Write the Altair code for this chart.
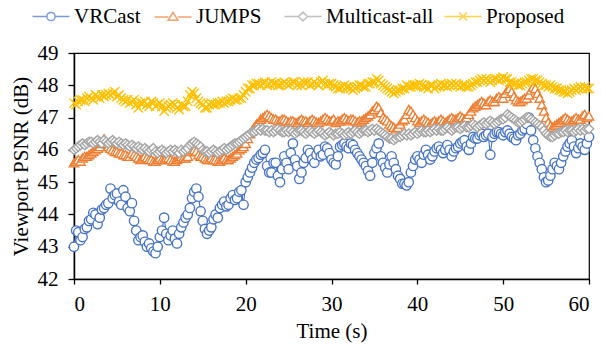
import altair as alt
import pandas as pd

series_names = ["VRCast", "JUMPS", "Multicast-all", "Proposed"]
colors = ["#4472C4", "#ED7D31", "#A5A5A5", "#FFC000"]

# samples every 0.25 s, from 0 to 60 s (4 per second + final point)
time = [i * 0.25 for i in range(241)]

vrcast = [
    43.0, 43.5, 43.45, 43.2,  43.3, 43.55, 43.6, 43.8,  43.85, 44.05, 44.0, 43.7,
    43.9, 44.15, 44.2, 44.3,  44.35, 44.8, 44.5, 44.6,  44.65, 44.4, 44.3, 44.75,
    44.55, 44.2, 44.1, 44.35,  43.8, 43.5, 43.2, 43.3,  43.35, 43.15, 43.0, 43.1,
    42.95, 42.85, 42.8, 43.0,  43.3, 43.5, 43.9, 43.4,  43.2, 43.35, 43.5, 43.25,
    43.1, 43.4, 43.6, 43.75,  43.9, 44.0, 44.2, 44.5,  44.7, 44.8, 44.55, 44.1,
    43.8, 43.55, 43.4, 43.5,  43.6, 43.85, 44.0, 43.9,  44.2, 44.3, 44.4, 44.25,
    44.3, 44.5, 44.6, 44.45,  44.5, 44.7, 44.75, 44.3,  45.0, 45.15, 45.3, 45.45,
    45.6, 45.7, 45.75, 45.85,  45.9, 46.0, 45.5, 45.3,  45.3, 45.6, 45.6, 45.2,
    45.0, 45.4, 45.8, 45.6,  45.4, 45.9, 46.2, 45.7,  45.5, 45.1, 45.3, 45.6,
    45.75, 46.0, 45.9, 45.7,  45.6, 45.85, 46.0, 45.8,  45.85, 46.1, 46.05, 45.9,
    45.7, 45.6, 45.55, 45.8,  46.1, 46.15, 46.2, 46.1,  46.05, 46.2, 46.15, 46.0,
    45.9, 45.8, 45.7, 45.6,  45.5, 45.35, 45.2, 45.6,  45.9, 46.05, 46.2, 45.8,
    45.6, 45.45, 45.3, 45.55,  45.8, 45.6, 45.4, 45.2,  45.1, 44.95, 44.95, 44.9,
    45.0, 45.3, 45.5, 45.7,  45.8, 45.7, 45.6, 45.85,  46.0, 45.85, 45.7, 45.8,
    45.95, 46.05, 46.1, 46.0,  45.9, 46.0, 46.15, 46.0,  45.8, 45.95, 46.05, 46.1,
    46.2, 46.25, 46.3, 46.1,  46.0, 46.2, 46.4, 46.35,  46.35, 46.45, 46.5, 46.4,
    46.45, 46.5, 45.85, 46.4,  46.5, 46.55, 46.55, 46.5,  46.45, 46.55, 46.6, 46.5,
    46.4, 46.35, 46.3, 46.45,  46.5, 46.6, 46.65, 46.8,  47.0, 46.6, 46.3, 46.05,
    45.8, 45.6, 45.4, 45.15,  45.0, 45.05, 45.2, 45.4,  45.6, 45.5, 45.4, 45.6,
    45.8, 45.95, 46.1, 46.2,  46.3, 46.1, 45.9, 46.05,  46.2, 46.1, 46.0, 46.2,
    46.4,
]

jumps = [
    45.6, 45.65, 45.7, 45.65,  45.75, 45.8, 45.8, 45.85,  45.9, 45.95, 46.0, 46.05,
    46.1, 46.2, 46.35, 46.2,  46.1, 46.05, 46.0, 45.95,  45.95, 45.9, 45.9, 45.85,
    45.85, 45.8, 45.8, 45.9,  45.85, 45.8, 45.75, 45.7,  45.75, 45.8, 45.75, 45.7,
    45.7, 45.65, 45.65, 45.7,  45.75, 45.7, 45.7, 45.75,  45.75, 45.7, 45.65, 45.65,
    45.7, 45.75, 45.8, 45.75,  45.75, 45.8, 45.95, 46.0,  46.0, 45.95, 45.85, 45.8,
    45.8, 45.75, 45.7, 45.7,  45.75, 45.7, 45.7, 45.65,  45.65, 45.7, 45.75, 45.7,
    45.7, 45.75, 45.8, 45.85,  45.9, 46.0, 46.05, 46.1,  46.2, 46.35, 46.5, 46.6,
    46.7, 46.8, 46.85, 46.95,  47.0, 47.05, 47.1, 47.05,  47.0, 46.95, 46.95, 46.9,
    46.9, 46.95, 46.95, 46.9,  46.85, 46.9, 46.9, 46.85,  46.85, 46.9, 46.95, 46.9,
    46.9, 46.85, 46.9, 46.95,  46.9, 46.85, 46.85, 46.9,  46.95, 47.0, 46.95, 46.9,
    46.9, 46.95, 46.85, 46.9,  46.9, 46.95, 47.0, 46.95,  46.9, 46.95, 46.95, 46.9,
    46.85, 46.9, 46.9, 46.95,  47.0, 47.05, 47.1, 47.2,  47.25, 47.35, 47.3, 47.15,
    47.0, 46.95, 46.9, 46.8,  46.75, 46.7, 46.65, 46.7,  46.8, 46.9, 46.95, 47.1,
    47.25, 47.2, 47.1, 47.0,  46.9, 46.85, 46.9, 46.95,  46.9, 46.85, 46.8, 46.85,
    46.9, 46.85, 46.9, 46.95,  46.9, 46.85, 46.9, 46.95,  47.0, 46.95, 46.95, 47.0,
    47.05, 47.0, 46.95, 47.0,  47.1, 47.2, 47.3, 47.35,  47.4, 47.45, 47.5, 47.45,
    47.4, 47.5, 47.55, 47.5,  47.5, 47.6, 47.65, 47.6,  47.6, 47.75, 47.85, 47.9,
    47.8, 47.65, 47.55, 47.5,  47.5, 47.55, 47.6, 47.6,  47.7, 47.85, 47.95, 47.9,
    47.75, 47.6, 47.4, 47.2,  47.0, 46.85, 46.75, 46.7,  46.75, 46.8, 46.85, 46.9,
    46.95, 47.0, 46.95, 46.9,  46.9, 46.95, 47.0, 46.95,  46.95, 47.05, 47.1, 47.0,
    47.05,
]

multicast = [
    46.0, 46.05, 46.1, 46.15,  46.2, 46.15, 46.2, 46.25,  46.25, 46.2, 46.25, 46.3,
    46.25, 46.2, 46.3, 46.25,  46.2, 46.25, 46.3, 46.25,  46.2, 46.25, 46.2, 46.15,
    46.2, 46.15, 46.1, 46.15,  46.1, 46.05, 46.1, 46.05,  46.0, 46.05, 46.0, 45.95,
    46.0, 46.05, 45.95, 45.9,  45.95, 46.0, 45.95, 45.9,  45.95, 46.0, 45.95, 46.0,
    45.95, 45.9, 46.0, 45.95,  46.0, 46.05, 46.15, 46.2,  46.25, 46.2, 46.15, 46.1,
    46.0, 45.95, 45.95, 45.9,  45.95, 46.0, 45.95, 45.9,  45.95, 46.0, 46.05, 46.0,
    46.05, 46.1, 46.15, 46.2,  46.2, 46.25, 46.3, 46.35,  46.4, 46.45, 46.5, 46.55,
    46.55, 46.6, 46.65, 46.6,  46.65, 46.6, 46.6, 46.55,  46.6, 46.55, 46.6, 46.65,
    46.6, 46.55, 46.55, 46.6,  46.55, 46.6, 46.55, 46.5,  46.55, 46.6, 46.6, 46.55,
    46.5, 46.55, 46.6, 46.55,  46.5, 46.55, 46.6, 46.55,  46.5, 46.45, 46.5, 46.55,
    46.5, 46.45, 46.5, 46.5,  46.55, 46.5, 46.45, 46.5,  46.55, 46.5, 46.55, 46.6,
    46.55, 46.5, 46.55, 46.6,  46.6, 46.55, 46.6, 46.65,  46.6, 46.65, 46.6, 46.55,
    46.5, 46.45, 46.4, 46.35,  46.35, 46.3, 46.35, 46.4,  46.4, 46.45, 46.5, 46.45,
    46.5, 46.45, 46.5, 46.55,  46.5, 46.55, 46.6, 46.55,  46.55, 46.6, 46.55, 46.6,
    46.65, 46.6, 46.65, 46.6,  46.6, 46.65, 46.7, 46.65,  46.6, 46.65, 46.7, 46.7,
    46.65, 46.7, 46.75, 46.7,  46.7, 46.75, 46.8, 46.75,  46.7, 46.75, 46.8, 46.85,
    46.8, 46.85, 46.9, 46.85,  46.8, 46.85, 46.9, 46.95,  46.95, 47.0, 47.1, 47.05,
    47.0, 46.95, 46.9, 46.85,  46.85, 46.9, 46.95, 47.0,  47.0, 46.95, 46.9, 46.85,
    46.8, 46.75, 46.7, 46.6,  46.5, 46.45, 46.4, 46.4,  46.45, 46.5, 46.5, 46.55,
    46.55, 46.6, 46.55, 46.6,  46.6, 46.55, 46.6, 46.65,  46.6, 46.65, 46.6, 46.65,
    46.65,
]

proposed = [
    47.45, 47.4, 47.5, 47.55,  47.55, 47.5, 47.6, 47.65,  47.6, 47.55, 47.7, 47.65,
    47.6, 47.7, 47.65, 47.7,  47.75, 47.7, 47.75, 47.8,  47.65, 47.7, 47.6, 47.55,
    47.5, 47.55, 47.45, 47.5,  47.55, 47.4, 47.3, 47.45,  47.45, 47.5, 47.4, 47.35,
    47.5, 47.45, 47.35, 47.4,  47.45, 47.35, 47.2, 47.3,  47.35, 47.4, 47.45, 47.4,
    47.3, 47.25, 47.4, 47.35,  47.35, 47.5, 47.7, 47.8,  47.75, 47.6, 47.5, 47.45,
    47.4, 47.3, 47.3, 47.4,  47.45, 47.4, 47.4, 47.45,  47.45, 47.5, 47.45, 47.5,
    47.5, 47.55, 47.6, 47.55,  47.55, 47.6, 47.6, 47.7,  47.8, 47.9, 47.9, 48.0,
    48.0, 48.05, 48.05, 48.0,  48.05, 48.1, 48.0, 48.05,  48.1, 48.05, 48.05, 48.0,
    48.0, 48.05, 48.1, 48.05,  48.0, 48.05, 48.1, 48.1,  48.0, 48.05, 48.0, 48.1,
    48.05, 48.1, 48.0, 48.05,  48.1, 48.05, 48.0, 48.1,  48.15, 48.05, 48.0, 48.05,
    48.05, 48.0, 47.95, 47.9,  47.9, 47.95, 48.0, 47.95,  47.95, 47.9, 47.85, 47.9,
    47.95, 48.0, 48.0, 47.95,  47.95, 48.05, 48.05, 48.1,  48.1, 48.2, 48.15, 48.05,
    48.0, 47.95, 47.9, 47.85,  47.8, 47.75, 47.8, 47.85,  47.85, 47.9, 47.9, 48.0,
    47.95, 47.95, 48.0, 48.0,  48.0, 48.05, 48.0, 47.95,  47.95, 47.9, 48.0, 48.0,
    47.9, 47.95, 48.0, 48.05,  48.0, 48.0, 47.95, 48.0,  48.05, 48.0, 48.05, 48.0,
    47.95, 48.0, 48.0, 47.95,  47.95, 48.0, 48.05, 48.1,  48.1, 48.15, 48.2, 48.15,
    48.2, 48.15, 48.1, 48.15,  48.2, 48.2, 48.15, 48.2,  48.25, 48.2, 48.2, 48.1,
    48.1, 48.05, 48.05, 48.0,  48.0, 48.05, 48.1, 48.1,  48.15, 48.2, 48.2, 48.15,
    48.15, 48.1, 48.05, 48.0,  48.0, 47.95, 48.0, 47.95,  47.9, 47.9, 47.85, 47.85,
    47.8, 47.8, 47.75, 47.8,  47.85, 47.9, 47.85, 47.9,  47.95, 47.9, 47.95, 47.9,
    47.9,
]

y_ticks = [42, 43, 44, 45, 46, 47, 48, 49]
x_ticks = [0, 10, 20, 30, 40, 50, 60]

values = {"VRCast": vrcast, "JUMPS": jumps, "Multicast-all": multicast, "Proposed": proposed}
rows = []
for order, name in enumerate(series_names):
    for t, v in zip(time, values[name]):
        rows.append({"time": t, "value": v, "series": name, "order": order})
df = pd.DataFrame(rows)

FONT = "Liberation Serif"

x_enc = alt.X("time:Q", scale=alt.Scale(domain=[0, 60], nice=False),
              axis=alt.Axis(values=x_ticks, title="Time (s)", tickSize=5,
                            labelPadding=9, titlePadding=6))
y_enc = alt.Y("value:Q", scale=alt.Scale(domain=[42, 49], nice=False, zero=False),
              axis=alt.Axis(values=y_ticks, title="Viewport PSNR (dB)", format="d",
                            tickSize=6, labelPadding=10, titlePadding=6))

color_scale = alt.Scale(domain=series_names, range=colors)
plot_shapes = alt.Scale(domain=series_names,
                        range=["circle", "triangle-up", "diamond", "M-1,-1L1,1M-1,1L1,-1"])

# legend glyphs: a short line with the marker in its middle (path starts at x=0)
legend_paths = [
    "M0,0H3.6M5.65,0H9.25M3.6,0A1.025,1.025,0,1,0,5.65,0A1.025,1.025,0,1,0,3.6,0Z",
    "M0,0.15H3.45M5.8,0.15H9.25M4.625,-1.05L5.85,0.95L3.4,0.95Z",
    "M0,0H3.5M5.75,0H9.25M4.625,-1.1L5.75,0L4.625,1.1L3.5,0Z",
    "M0,0H9.25M3.625,-1L5.625,1M3.625,1L5.625,-1",
]
legend_x = [-52, 70, 200, 360]

lines = alt.Chart(df).mark_line(strokeWidth=1.1).encode(
    x=x_enc, y=y_enc,
    color=alt.Color("series:N", scale=color_scale, legend=None),
    order="time:Q",
)

points = alt.Chart(df).mark_point(filled=True, fill="white", strokeWidth=1.35, size=88, opacity=1).encode(
    x=x_enc, y=y_enc,
    stroke=alt.Stroke("series:N", scale=color_scale, legend=None),
    shape=alt.Shape("series:N", scale=plot_shapes, legend=None),
    order="order:Q",
)

legend_layers = []
for name, col, path, lx in zip(series_names, colors, legend_paths, legend_x):
    leg = alt.Legend(
        title=None, orient="none", legendX=lx, legendY=-47, direction="horizontal",
        labelFont=FONT, labelFontSize=21, labelColor="black", symbolSize=64,
        symbolStrokeWidth=1.5, labelOffset=31, padding=0, symbolFillColor="white",
    )
    layer = alt.Chart(df).transform_filter(
        alt.datum.series == name
    ).transform_filter("datum.time < 0").mark_point(
        filled=True, fill="white", strokeWidth=1.5, size=64, clip=True
    ).encode(
        x=x_enc, y=y_enc,
        stroke=alt.Stroke("series:N", scale=alt.Scale(domain=[name], range=[col]), legend=leg),
        shape=alt.Shape("series:N", scale=alt.Scale(domain=[name], range=[path]), legend=leg),
    )
    legend_layers.append(layer)

chart = alt.layer(lines, points, *legend_layers).resolve_scale(
    shape="independent", stroke="independent"
).properties(
    width=515, height=226,
    autosize=alt.AutoSizeParams(type="none"),
    padding={"left": 74, "top": 53, "right": 12, "bottom": 70},
).configure_view(
    stroke="black", strokeWidth=1.2
).configure_axis(
    grid=False, domainColor="black", domainWidth=1.5, tickColor="black", tickWidth=1.3,
    labelFont=FONT, labelFontSize=21, labelColor="black",
    titleFont=FONT, titleFontSize=21, titleColor="black", titleFontWeight="normal",
)

chart.save("out.html", embed_options={"renderer": "svg", "actions": False})
